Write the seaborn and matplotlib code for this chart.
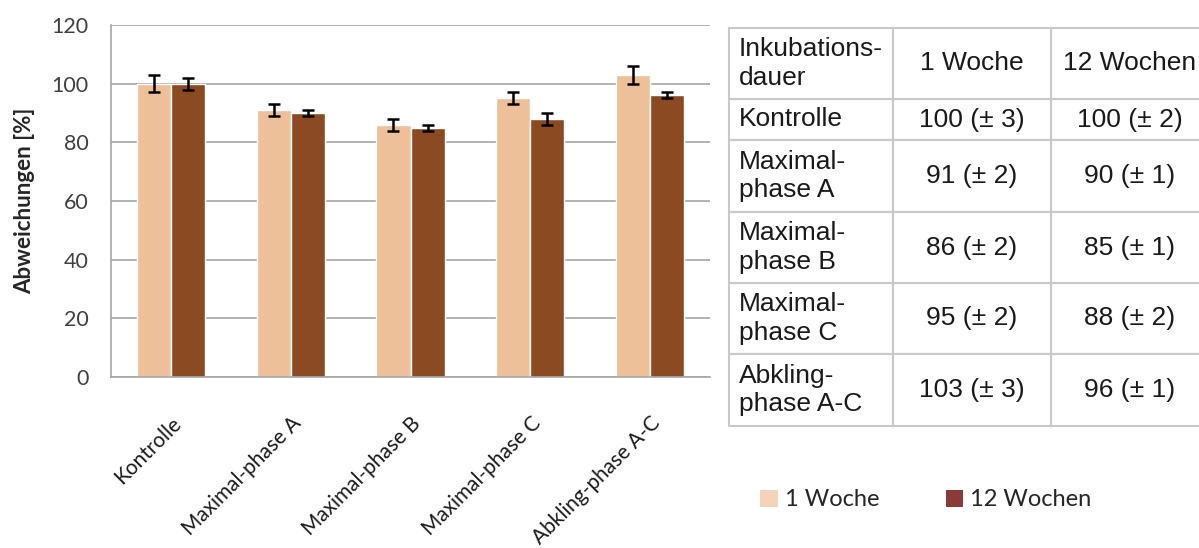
import numpy as np
import pandas as pd
import matplotlib
matplotlib.use("Agg")
import matplotlib.pyplot as plt
from matplotlib.patches import Patch
import seaborn as sns

# data
categories = ['Kontrolle', 'Maximal-phase A', 'Maximal-phase B', 'Maximal-phase C', 'Abkling-phase A-C']
table_rows = ['Kontrolle', 'Maximal-\nphase A', 'Maximal-\nphase B', 'Maximal-\nphase C', 'Abkling-\nphase A-C']
series = ['1 Woche', '12 Wochen']
woche_1 = [100, 91, 86, 95, 103]
woche_1_err = [3, 2, 2, 2, 3]
wochen_12 = [100, 90, 85, 88, 96]
wochen_12_err = [2, 1, 1, 2, 1]
y_ticks = [0, 20, 40, 60, 80, 100, 120]

bar_colors = ['#EDC09A', '#8B4A22']
legend_colors = ['#F5D3B8', '#8B3A3A']

sns.set_theme(style='white')
plt.rcParams['font.family'] = ['Lato', 'DejaVu Sans']

df = pd.DataFrame({
    'Kategorie': categories * 2,
    'Wert': woche_1 + wochen_12,
    'Fehler': woche_1_err + wochen_12_err,
    'Dauer': [series[0]] * 5 + [series[1]] * 5,
})

fig = plt.figure(figsize=(11.99, 5.48), dpi=100)
ax = fig.add_axes([111 / 1199, 1 - 377 / 548, (710 - 111) / 1199, (377 - 25) / 548])

sns.barplot(data=df, x='Kategorie', y='Wert', hue='Dauer', palette=bar_colors,
            width=0.57, gap=0, errorbar=None, saturation=1, ax=ax, legend=False)

# error bars at the bar centres given by seaborn
for container, errs, vals in zip(ax.containers, [woche_1_err, wochen_12_err], [woche_1, wochen_12]):
    xs = [p.get_x() + p.get_width() / 2 for p in container.patches]
    ax.errorbar(xs, vals, yerr=errs, fmt='none', ecolor='black', elinewidth=1.8,
                capsize=4.5, capthick=1.8, zorder=5)

ax.set_ylim(0, 120)
ax.set_xlim(-0.5, len(categories) - 0.5)
ax.set_yticks(y_ticks)
ax.yaxis.grid(True, color='#A6A6A6', linewidth=1.2)
ax.set_axisbelow(True)
ax.tick_params(axis='y', length=8, color='#A6A6A6', width=1.2, labelsize=15.5,
               labelcolor='#404040', pad=8)
for s in ['top', 'right']:
    ax.spines[s].set_visible(False)
for s in ['left', 'bottom']:
    ax.spines[s].set_color('#A6A6A6')
    ax.spines[s].set_linewidth(1.2)

ax.set_xticks(np.arange(len(categories)))
ax.set_xticklabels(categories, rotation=45, ha='right', rotation_mode='anchor', fontsize=15)
ax.tick_params(axis='x', which='major', length=0, pad=26, labelcolor='#1a1a1a')
ax.set_xticks(np.arange(len(categories) + 1) - 0.5, minor=True)
ax.tick_params(axis='x', which='minor', length=7, color='#A6A6A6', width=1.2)
ax.set_xlabel('')
ax.set_ylabel('Abweichungen [%]', fontsize=16, fontweight='bold', labelpad=12)

# table on the right
tax = fig.add_axes([729 / 1199, 1 - 426 / 548, (1209 - 729) / 1199, (426 - 28) / 548])
tax.axis('off')
cell_text = [['Inkubations-\ndauer', series[0], series[1]]]
for name, a, ae, b, be in zip(table_rows, woche_1, woche_1_err, wochen_12, wochen_12_err):
    cell_text.append([name, f'{a} (± {ae})', f'{b} (± {be})'])

tbl = tax.table(cellText=cell_text, colWidths=[164 / 480, 158 / 480, 158 / 480],
                bbox=[0, 0, 1, 1], cellLoc='center')
tbl.auto_set_font_size(False)
row_px = [71, 41, 72, 71, 71, 72]
total = sum(row_px)
for (r, c), cell in tbl.get_celld().items():
    cell.set_height(row_px[r] / total)
    cell.set_edgecolor('#C8C8C8')
    cell.set_linewidth(1.5)
    cell.get_text().set_fontsize(19)
    cell.get_text().set_family(['Liberation Sans', 'DejaVu Sans'])
    cell.get_text().set_color('#1a1a1a')
    cell.get_text().set_linespacing(1.25)
    if c == 0:
        cell._loc = 'left'
        cell.get_text().set_horizontalalignment('left')
        cell.PAD = 0.06

# legend
handles = [Patch(facecolor=col, edgecolor='none') for col in legend_colors]
fig.legend(handles, series, loc='center', bbox_to_anchor=(926 / 1199, 1 - 500 / 548),
           ncol=2, frameon=False, fontsize=17, handlelength=0.75, handleheight=0.75,
           handletextpad=0.3, columnspacing=2.8)

fig.savefig('out.png', dpi=100)
